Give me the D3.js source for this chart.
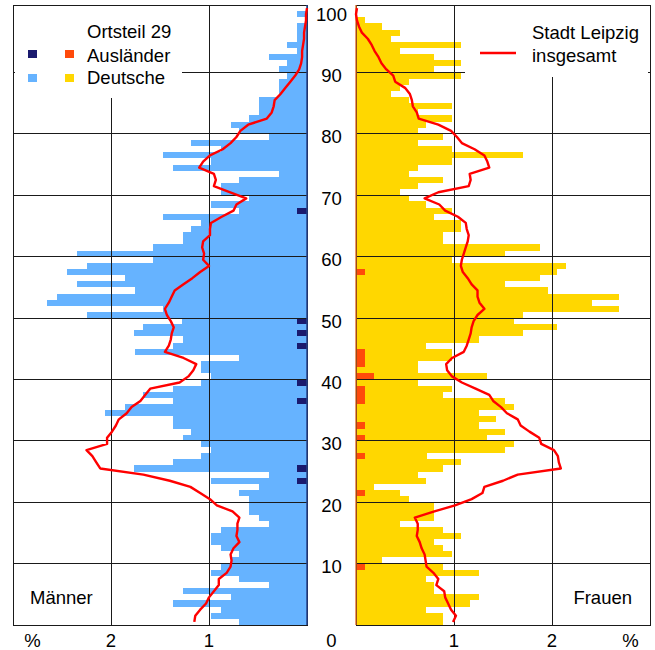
<!DOCTYPE html>
<html><head><meta charset="utf-8">
<script src="https://cdn.jsdelivr.net/npm/d3@7"></script>
<style>
body{margin:0;background:#fff}
svg{display:block}
text{font-family:"Liberation Sans",Arial,Helvetica,sans-serif;fill:#000}
</style>
</head><body>
<svg id="chart" width="655" height="650"></svg>
<script>
// ---------- data (percent of each sex, ages 0..100) ----------
const ages = d3.range(0, 101);

const menGerman = [
0.69,0.98,0.88,1.37,0.78,1.27,0.39,0.69,0.98,0.88,
0.78,0.69,0.88,0.98,0.98,0.88,0.39,0.49,0.59,0.59,
0.59,0.69,0.49,0.88,0.39,1.67,1.37,1.08,0.98,1.08,
1.27,1.18,1.37,1.37,2.06,1.86,1.27,1.67,1.37,0.98,
0.98,1.08,1.08,0.69,1.76,1.27,1.27,1.67,1.67,1.18,
2.25,1.47,2.65,2.55,1.76,2.35,1.86,2.45,2.25,1.57,
2.35,1.57,1.27,1.27,1.18,1.08,1.47,0.59,0.98,0.59,
0.88,0.88,0.69,0.29,1.37,0.98,1.47,0.88,1.18,0.39,
0.69,0.78,0.59,0.49,0.49,0.49,0.29,0.29,0.29,0.20,
0.29,0.20,0.39,0.10,0.20,0.10,0.10,0.10,0,0.10,
0];

const menForeign = [
0,0,0,0,0,0,0,0,0,0,
0,0,0,0,0,0,0,0,0,0,
0,0,0,0.10,0,0.10,0,0,0,0,
0,0,0,0,0,0,0.10,0,0,0.10,
0,0,0,0,0,0.10,0,0.10,0,0.10,
0,0,0,0,0,0,0,0,0,0,
0,0,0,0,0,0,0,0.10,0,0,
0,0,0,0,0,0,0,0,0,0,
0,0,0,0,0,0,0,0,0,0,
0,0,0,0,0,0,0,0,0,0,
0];

const womenGerman = [
0.89,0.89,0.71,1.16,1.25,0.80,0.80,0.71,1.25,0.80,
0.27,0.98,0.89,0.80,1.07,0.89,0.45,0.80,0.80,0.80,
0.54,0.36,0.18,0.71,0.63,0.89,1.07,0.63,1.52,1.61,
1.25,1.52,1.16,1.43,1.25,1.61,1.43,0.80,0.89,0.63,
1.16,0.63,0.54,0.89,0.89,0.71,1.25,1.70,2.05,1.61,
1.70,2.68,2.41,2.68,1.96,1.52,1.88,1.96,2.14,0.98,
1.52,1.88,0.89,0.89,1.07,1.07,0.80,0.98,0.71,0.54,
0.45,0.63,0.89,0.54,0.63,0.98,1.70,0.98,0.63,0.89,
0.63,0.71,0.98,0.63,0.98,0.54,0.36,0.45,0.54,1.07,
0.80,1.07,0.80,0.45,1.07,0.36,0.45,0.27,0.09,0,
0];

const womenForeign = [
0,0,0,0,0,0,0,0,0,0.09,
0,0,0,0,0,0,0,0,0,0,
0,0.09,0,0,0,0,0,0.09,0,0,
0.09,0,0.09,0,0,0,0.09,0.09,0.09,0,
0.18,0,0.09,0.09,0.09,0,0,0,0,0,
0,0,0,0,0,0,0,0.09,0,0,
0,0,0,0,0,0,0,0,0,0,
0,0,0,0,0,0,0,0,0,0,
0,0,0,0,0,0,0,0,0,0,
0,0,0,0,0,0,0,0,0,0,
0];

const menCity = [
1.15,1.14,1.09,1.03,1.00,0.95,0.90,0.90,0.82,0.78,
0.77,0.78,0.75,0.69,0.72,0.71,0.71,0.69,0.76,0.92,
0.99,1.09,1.19,1.40,1.67,2.11,2.15,2.19,2.25,2.04,
2.04,1.99,1.95,1.92,1.84,1.79,1.70,1.65,1.60,1.30,
1.21,1.16,1.13,1.26,1.45,1.41,1.39,1.38,1.36,1.39,
1.43,1.45,1.41,1.38,1.35,1.26,1.17,1.09,1.00,1.06,
1.05,1.07,1.06,0.99,0.99,0.98,0.87,0.75,0.72,0.62,
0.79,0.95,0.93,0.95,1.10,1.06,0.99,0.86,0.78,0.72,
0.68,0.60,0.41,0.36,0.34,0.33,0.27,0.22,0.17,0.12,
0.08,0.06,0.05,0.05,0.04,0.03,0.03,0.02,0.01,0.01,
0.00];

const womenCity = [
0.99,1.02,0.97,0.94,0.91,0.90,0.82,0.84,0.79,0.72,
0.71,0.70,0.67,0.65,0.62,0.63,0.63,0.60,0.80,1.01,
1.18,1.29,1.31,1.50,1.65,2.09,2.07,2.06,2.02,1.89,
1.87,1.77,1.68,1.65,1.54,1.48,1.40,1.36,1.22,1.08,
0.98,0.93,0.92,0.98,1.10,1.13,1.15,1.17,1.18,1.20,
1.24,1.31,1.26,1.24,1.24,1.18,1.14,1.09,1.07,1.08,
1.10,1.12,1.14,1.15,1.13,1.12,1.04,0.91,0.85,0.70,
0.84,1.15,1.17,1.16,1.36,1.34,1.31,1.21,1.08,1.03,
0.97,0.84,0.64,0.62,0.58,0.57,0.55,0.50,0.40,0.38,
0.31,0.26,0.23,0.19,0.16,0.12,0.06,0.03,0.01,0.00,
0.01];

const ageTicks = [10,20,30,40,50,60,70,80,90,100];
const pctTicks = [1,2];
const legendTitle = "Ortsteil 29";
const legendRows = ["Ausländer","Deutsche"];
const cityLegend = ["Stadt Leipzig","insgesamt"];

// ---------- colours ----------
const C = {
  menGerman:"#66b3ff", menForeign:"#1a1a6e",
  womenGerman:"#ffd700", womenForeign:"#ff4a0a",
  city:"#ff0000", grid:"#1a1a1a"
};

// ---------- scales ----------
const svg = d3.select("#chart");
const xL = d3.scaleLinear().domain([0,3]).range([307,13]);
const xR = d3.scaleLinear().domain([0,3]).range([356,650]);
const y  = d3.scaleLinear().domain([0,101]).range([625,5]);

// ---------- bars ----------
const gBars = svg.append("g").attr("shape-rendering","crispEdges");
function bars(cls, xs, base, vals, color, left){
  gBars.selectAll("rect."+cls).data(ages).join("rect")
    .attr("class",cls)
    .attr("x", a => left ? xs(base[a]+vals[a]) : xs(base[a]))
    .attr("width", a => Math.abs(xs(base[a]+vals[a]) - xs(base[a])))
    .attr("y", a => y(a+1))
    .attr("height", a => y(a) - y(a+1))
    .attr("fill", color);
}
const zeros = ages.map(() => 0);
bars("mf", xL, zeros, menForeign, C.menForeign, true);
bars("mg", xL, menForeign, menGerman, C.menGerman, true);
bars("wf", xR, zeros, womenForeign, C.womenForeign, false);
bars("wg", xR, womenForeign, womenGerman, C.womenGerman, false);

// ---------- grid + frames ----------
const gGrid = svg.append("g").attr("shape-rendering","crispEdges")
  .attr("stroke", C.grid).attr("stroke-width",1).attr("fill","none");
[xL, xR].forEach(xs => {
  gGrid.selectAll(null).data(ageTicks.slice(0,9)).join("line")
    .attr("x1", xs(0)).attr("x2", xs(3))
    .attr("y1", d => y(d)).attr("y2", d => y(d));
  gGrid.selectAll(null).data(pctTicks).join("line")
    .attr("x1", d => xs(d)).attr("x2", d => xs(d))
    .attr("y1", y(0)).attr("y2", y(101));
  gGrid.append("rect")
    .attr("x", Math.min(xs(0), xs(3))).attr("y", y(101))
    .attr("width", Math.abs(xs(3)-xs(0))).attr("height", y(0)-y(101));
});

// legend backgrounds (hide grid behind legends)
svg.append("rect").attr("x",15).attr("y",6).attr("width",167).attr("height",92).attr("fill","#fff");
svg.append("rect").attr("x",465).attr("y",6).attr("width",183).attr("height",71).attr("fill","#fff");

// zero axes
svg.append("line").attr("x1",xL(0)).attr("x2",xL(0)).attr("y1",y(101)).attr("y2",y(0))
  .attr("stroke","#26408a").attr("stroke-width",1.5);
svg.append("line").attr("x1",xR(0)).attr("x2",xR(0)).attr("y1",y(101)).attr("y2",y(0))
  .attr("stroke","#e0661a").attr("stroke-width",1.3);

// ---------- city lines ----------
const lineL = d3.line().x(a => xL(menCity[a])).y(a => y(a+0.5));
const lineR = d3.line().x(a => xR(womenCity[a])).y(a => y(a+0.5));
svg.append("path").attr("d", lineL(ages)).attr("fill","none")
  .attr("stroke",C.city).attr("stroke-width",2.4).attr("stroke-linejoin","round");
svg.append("path").attr("d", lineR(ages)).attr("fill","none")
  .attr("stroke",C.city).attr("stroke-width",2.4).attr("stroke-linejoin","round");

// ---------- axis labels ----------
const fs = 18.5;
svg.append("g").selectAll("text").data(ageTicks).join("text")
  .attr("x", 331.5).attr("y", d => y(d) + 9.5)
  .attr("text-anchor","middle").attr("font-size",fs).text(d => d);

const bottom = svg.append("g").attr("font-size",fs).attr("text-anchor","middle");
bottom.append("text").attr("x",331.5).attr("y",647).text("0");
pctTicks.forEach(t => {
  bottom.append("text").attr("x",xL(t)).attr("y",647).text(t);
  bottom.append("text").attr("x",xR(t)).attr("y",647).text(t);
});
bottom.append("text").attr("x",xL(2.8)).attr("y",647).text("%");
bottom.append("text").attr("x",xR(2.8)).attr("y",647).text("%");

svg.append("text").attr("x",30).attr("y",604).attr("font-size",fs).text("Männer");
svg.append("text").attr("x",632).attr("y",604).attr("font-size",fs).attr("text-anchor","end").text("Frauen");

// ---------- legends ----------
const lg = svg.append("g").attr("font-size",fs);
lg.append("text").attr("x",87).attr("y",38).text(legendTitle);
lg.append("text").attr("x",87).attr("y",62).text(legendRows[0]);
lg.append("text").attr("x",87).attr("y",84).text(legendRows[1]);
const sq = [[28,50,C.menForeign],[65,50,C.womenForeign],[28,74,C.menGerman],[65,74,C.womenGerman]];
lg.selectAll("rect").data(sq).join("rect")
  .attr("x", d => d[0]).attr("y", d => d[1]).attr("width",9).attr("height",8)
  .attr("fill", d => d[2]);

lg.append("text").attr("x",532).attr("y",39).text(cityLegend[0]);
lg.append("text").attr("x",532).attr("y",61.5).text(cityLegend[1]);
lg.append("line").attr("x1",480).attr("x2",516).attr("y1",53).attr("y2",53)
  .attr("stroke",C.city).attr("stroke-width",2.4);
</script>
</body></html>
